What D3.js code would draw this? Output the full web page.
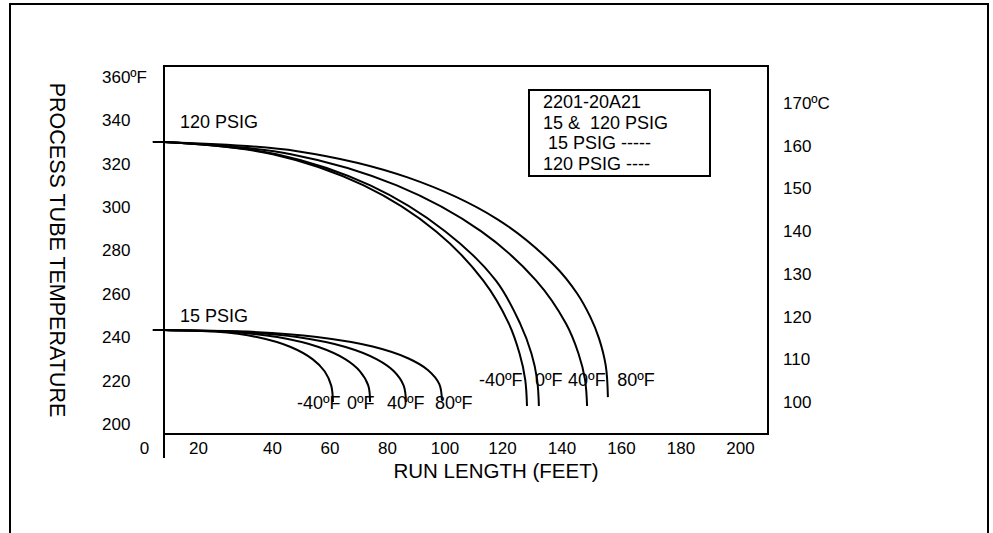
<!DOCTYPE html>
<html>
<head>
<meta charset="utf-8">
<script src="https://cdn.jsdelivr.net/npm/d3@7"></script>
<style>
  body { margin: 0; background: #fff; }
  text { font-family: "Liberation Sans", Arial, Helvetica, sans-serif; fill: #000; }
</style>
</head>
<body>
<div id="chart"></div>
<script>
// tick values
const runTicks = [0, 20, 40, 60, 80, 100, 120, 140, 160, 180, 200];
const tempTicksF = [200, 220, 240, 260, 280, 300, 320, 340, 360];
const tempTicksC = [100, 110, 120, 130, 140, 150, 160, 170];

// ambient temperatures, one curve per ambient for each pressure
const ambients = ["-40ºF", "0ºF", "40ºF", "80ºF"];

// 120 PSIG curves (run length in feet, tube temperature in ºF)
const run120 = [
    [3.3, 7.4, 40.3, 71.9, 97.1, 113.5, 122.3, 125.9, 127.8, 128.4],
    [3.3, 7.4, 41.6, 74.2, 100.3, 117.9, 126.1, 129.9, 131.8, 132.4],
    [3.3, 7.4, 46.6, 83.4, 112.8, 131.5, 141.5, 145.7, 147.9, 148.6],
    [3.3, 7.4, 48.8, 87.4, 118.3, 137.7, 145.2, 149.6, 152.6, 154.9, 155.6]
];
const temp120 = [
    [330, 330, 324.4, 310.0, 288.8, 266.1, 246.3, 232.5, 220.5, 208.3],
    [330, 330, 324.4, 310.0, 288.8, 266.1, 246.3, 232.5, 220.5, 208.3],
    [330, 330, 324.4, 310.0, 288.8, 266.1, 246.3, 232.5, 220.5, 208.3],
    [330, 330, 325.8, 313.6, 294.5, 273.0, 260.3, 249.6, 239.5, 226.7, 212.4]
];

// 15 PSIG curves
const run15 = [
    [3.3, 7.4, 24.5, 35.9, 46.5, 54.2, 58.3, 60.6, 61.2],
    [3.3, 7.4, 27.5, 41.8, 56.2, 65.6, 70.6, 73.5, 74.1],
    [3.3, 7.4, 30.4, 48.7, 65.6, 76.5, 82.4, 85.8, 86.6],
    [3.3, 7.4, 33.4, 55.6, 75.0, 87.5, 94.3, 98.2, 99.1]
];
const temp15 = [
    [243.3, 243.3, 242.6, 240.1, 235.5, 229.8, 224.3, 217.7, 210.1],
    [243.3, 243.3, 242.6, 240.1, 235.5, 229.8, 224.3, 217.7, 210.1],
    [243.3, 243.3, 242.6, 240.1, 235.5, 229.8, 224.3, 217.7, 210.1],
    [243.3, 243.3, 242.6, 240.1, 235.7, 230.2, 224.8, 218.4, 211.1]
];

// where the ambient labels sit (run, temp)
const labelRun120 = [112, 131.1, 142.2, 158.7];
const labelTemp120 = 220.3;
const labelRun15 = [48.7, 66.1, 80, 96.7];
const labelTemp15 = 209.7;

// pressure labels
const pressureNames = ["120 PSIG", "15 PSIG"];
const pressureLabelRun = 13.3;
const pressureLabelTemp = [339.2, 249.8];

const legendLines = ["2201-20A21", "15 &  120 PSIG", " 15 PSIG -----", "120 PSIG ----"];

// layout
const width = 993, height = 533;
const box = { left: 164, right: 768, top: 66, bottom: 434 };

const svg = d3.select("#chart").append("svg")
    .attr("width", width)
    .attr("height", height);

// outer frame (open at bottom of the picture)
svg.append("rect")
    .attr("x", 10).attr("y", 4)
    .attr("width", 978).attr("height", 600)
    .attr("fill", "none")
    .attr("stroke", "#000")
    .attr("stroke-width", 2);

// scales (x labels are not evenly spaced in the original)
const x = d3.scaleLinear().domain([0, 20, 40, 120, 200]).range([144, 198, 272, 502, 740]);
const y = d3.scaleLinear().domain([200, 360]).range([424, 77]);
const yC = d3.scaleLinear().domain([100, 170]).range([402, 103]);

// plot box
svg.append("path")
    .attr("d", `M${box.left},${box.top}H${box.right}V${box.bottom}H${box.left}`)
    .attr("fill", "none").attr("stroke", "#000").attr("stroke-width", 2);
svg.append("line")
    .attr("x1", box.left).attr("x2", box.left)
    .attr("y1", box.top - 1).attr("y2", 458)
    .attr("stroke", "#000").attr("stroke-width", 2);

// bottom axis
svg.append("g")
    .attr("transform", "translate(0,448)")
    .call(d3.axisBottom(x).tickValues(runTicks).tickSize(0))
    .call(g => g.select(".domain").remove())
    .selectAll("text")
    .attr("y", 0).attr("dy", "0.35em")
    .attr("font-size", 17);

// left axis
svg.append("g")
    .attr("transform", "translate(102,0)")
    .call(d3.axisLeft(y).tickValues(tempTicksF).tickSize(0)
        .tickFormat(d => d === 360 ? "360ºF" : d))
    .call(g => g.select(".domain").remove())
    .selectAll("text")
    .attr("x", 0).attr("text-anchor", "start")
    .attr("font-size", 17);

// right axis (ºC)
svg.append("g")
    .attr("transform", "translate(783,0)")
    .call(d3.axisRight(yC).tickValues(tempTicksC).tickSize(0)
        .tickFormat(d => d === 170 ? "170ºC" : d))
    .call(g => g.select(".domain").remove())
    .selectAll("text")
    .attr("x", 0).attr("text-anchor", "start")
    .attr("font-size", 17);

// axis titles
svg.append("text")
    .attr("transform", "translate(57,250) rotate(90)")
    .attr("text-anchor", "middle")
    .attr("dominant-baseline", "central")
    .attr("font-size", 21.5)
    .text("PROCESS TUBE TEMPERATURE");

svg.append("text")
    .attr("x", 496).attr("y", 471)
    .attr("dy", "0.35em")
    .attr("text-anchor", "middle")
    .attr("font-size", 20.5)
    .text("RUN LENGTH (FEET)");

// curves
const line = d3.line()
    .x(d => x(d[0]))
    .y(d => y(d[1]))
    .curve(d3.curveCatmullRom.alpha(0.5));

const curveData = [];
run120.forEach((r, i) => curveData.push(r.map((v, j) => [v, temp120[i][j]])));
run15.forEach((r, i) => curveData.push(r.map((v, j) => [v, temp15[i][j]])));

svg.append("g").selectAll("path")
    .data(curveData)
    .join("path")
    .attr("d", line)
    .attr("fill", "none")
    .attr("stroke", "#000")
    .attr("stroke-width", 2);

// pressure labels
svg.append("g").selectAll("text")
    .data(pressureNames)
    .join("text")
    .attr("x", x(pressureLabelRun))
    .attr("y", (d, i) => y(pressureLabelTemp[i]))
    .attr("dy", "0.35em")
    .attr("font-size", 18)
    .text(d => d);

// ambient labels
svg.append("g").selectAll("text")
    .data(ambients)
    .join("text")
    .attr("x", (d, i) => x(labelRun15[i]))
    .attr("y", y(labelTemp15))
    .attr("dy", "0.35em")
    .attr("font-size", 18)
    .text(d => d);

svg.append("g").selectAll("text")
    .data(ambients)
    .join("text")
    .attr("x", (d, i) => x(labelRun120[i]))
    .attr("y", y(labelTemp120))
    .attr("dy", "0.35em")
    .attr("font-size", 18)
    .text(d => d);

// legend box
const legend = svg.append("g").attr("transform", "translate(529,90)");
legend.append("rect")
    .attr("width", 181).attr("height", 86)
    .attr("fill", "#fff").attr("stroke", "#000").attr("stroke-width", 2);
legend.selectAll("text")
    .data(legendLines)
    .join("text")
    .attr("x", 14)
    .attr("y", (d, i) => 12 + i * 20.5)
    .attr("dy", "0.35em")
    .attr("font-size", 18)
    .attr("xml:space", "preserve")
    .style("white-space", "pre")
    .text(d => d);
</script>
</body>
</html>
